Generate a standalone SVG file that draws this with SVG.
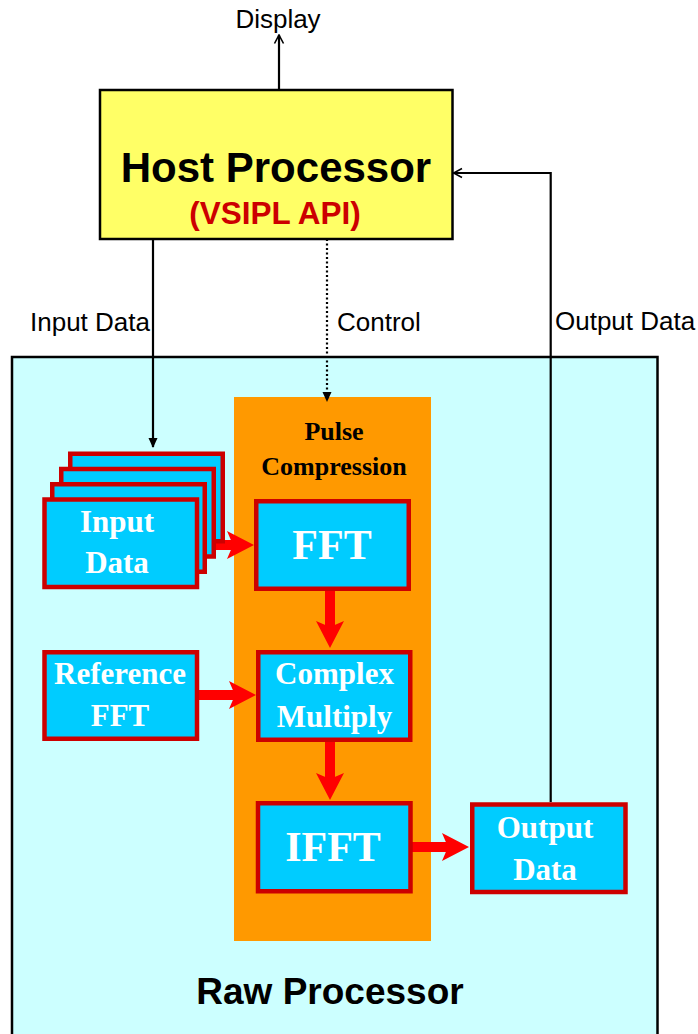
<svg xmlns="http://www.w3.org/2000/svg" width="698" height="1034" viewBox="0 0 698 1034">
  <style>
    .sans { font-family: "Liberation Sans", Arial, Helvetica, sans-serif; }
    .serif { font-family: "Liberation Serif", "Times New Roman", Times, serif; font-weight: bold; }
    .label { font-size: 26px; fill: #000000; }
    .block { fill: #00ccff; stroke: #cc0000; stroke-width: 4.5; }
    .blockText { font-size: 31px; fill: #ffffff; text-anchor: middle; }
    .bigText { font-size: 42px; fill: #ffffff; text-anchor: middle; }
    .wire { fill: none; stroke: #000000; stroke-width: 2.2; }
    .flow { fill: none; stroke: #ff0000; stroke-width: 10; }
  </style>
  <defs>
    <!-- notched red head for the data-flow arrows; refX sits 6px behind the back so the shaft ends under the head -->
    <marker id="redHead" markerUnits="userSpaceOnUse" viewBox="0 0 27 28" markerWidth="27" markerHeight="28" refX="6" refY="14" orient="auto">
      <path d="M0,0 L27,14 L0,28 L6,14 Z" fill="#ff0000"/>
    </marker>
    <marker id="blackHead" markerUnits="userSpaceOnUse" viewBox="0 0 10 10" markerWidth="10" markerHeight="10" refX="9" refY="5" orient="auto">
      <path d="M0,0.5 L10,5 L0,9.5 Z" fill="#000000"/>
    </marker>
    <marker id="openHead" markerUnits="userSpaceOnUse" viewBox="0 0 12 12" markerWidth="12" markerHeight="12" refX="10.5" refY="6" orient="auto">
      <path d="M2,1.5 L10.5,6 L2,10.5" fill="none" stroke="#000000" stroke-width="1.6"/>
    </marker>
  </defs>

  <rect width="698" height="1034" fill="#ffffff"/>

  <!-- Raw processor board -->
  <g id="raw-processor">
    <rect x="12" y="357" width="645.5" height="700" fill="#ccffff" stroke="#000000" stroke-width="2.5"/>
    <text class="sans" x="330" y="1004" font-size="37" font-weight="bold" text-anchor="middle">Raw Processor</text>
  </g>

  <!-- Pulse compression stage -->
  <g id="pulse-compression">
    <rect x="234" y="397" width="197" height="544" fill="#ff9900"/>
    <text class="serif" x="334" y="440" font-size="26" text-anchor="middle">Pulse</text>
    <text class="serif" x="334" y="475" font-size="26" text-anchor="middle">Compression</text>
  </g>

  <!-- Host processor -->
  <g id="host-processor">
    <rect x="100" y="90" width="352.5" height="149" fill="#ffff66" stroke="#000000" stroke-width="2.5"/>
    <text class="sans" x="276" y="182" font-size="42" font-weight="bold" text-anchor="middle">Host Processor</text>
    <text class="sans" x="275" y="224" font-size="31.5" font-weight="bold" fill="#cc0000" text-anchor="middle">(VSIPL API)</text>
  </g>

  <!-- Connectors -->
  <g id="connectors">
    <line class="wire" x1="279" y1="90" x2="279" y2="35" marker-end="url(#openHead)"/>
    <line class="wire" x1="153" y1="239" x2="153" y2="447" marker-end="url(#blackHead)"/>
    <line class="wire" x1="327" y1="239" x2="327" y2="401" stroke-dasharray="2 2.5" marker-end="url(#blackHead)"/>
    <polyline class="wire" points="550.7,802 550.7,173 453.5,173" marker-end="url(#openHead)"/>

    <line class="flow" x1="199" y1="545" x2="233" y2="545" marker-end="url(#redHead)"/>
    <line class="flow" x1="199" y1="695" x2="235" y2="695" marker-end="url(#redHead)"/>
    <line class="flow" x1="330" y1="591" x2="330" y2="627" marker-end="url(#redHead)"/>
    <line class="flow" x1="330" y1="742" x2="330" y2="779" marker-end="url(#redHead)"/>
    <line class="flow" x1="412" y1="847" x2="448" y2="847" marker-end="url(#redHead)"/>
  </g>

  <!-- Connector labels -->
  <g id="connector-labels" class="sans label">
    <text x="278" y="28" text-anchor="middle">Display</text>
    <text x="30" y="331">Input Data</text>
    <text x="337" y="331">Control</text>
    <text x="555" y="330">Output Data</text>
  </g>

  <!-- Stacked input data frames -->
  <g id="input-data">
    <rect class="block" x="70.25" y="453.75" width="152.5" height="87.5"/>
    <rect class="block" x="61.25" y="469" width="152.5" height="87.5"/>
    <rect class="block" x="52.25" y="484.25" width="152.5" height="87.5"/>
    <rect class="block" x="44.5" y="499.5" width="152.5" height="87.5"/>
    <text class="serif blockText" x="117" y="532">Input</text>
    <text class="serif blockText" x="117" y="573">Data</text>
  </g>

  <g id="reference-fft">
    <rect class="block" x="44.5" y="652.25" width="152.5" height="86.5"/>
    <text class="serif blockText" x="120" y="684">Reference</text>
    <text class="serif blockText" x="120" y="726">FFT</text>
  </g>

  <g id="fft">
    <rect class="block" x="256.25" y="501.25" width="152.5" height="87.5"/>
    <text class="serif bigText" x="332" y="559">FFT</text>
  </g>

  <g id="complex-multiply">
    <rect class="block" x="258.25" y="652.25" width="152" height="87.5"/>
    <text class="serif blockText" x="334.5" y="684">Complex</text>
    <text class="serif blockText" x="334.5" y="727">Multiply</text>
  </g>

  <g id="ifft">
    <rect class="block" x="258" y="803.25" width="152.5" height="88"/>
    <text class="serif bigText" x="333" y="861">IFFT</text>
  </g>

  <g id="output-data">
    <rect class="block" x="472.25" y="804.5" width="153.25" height="87.5"/>
    <text class="serif blockText" x="545" y="838">Output</text>
    <text class="serif blockText" x="545" y="880">Data</text>
  </g>
</svg>
